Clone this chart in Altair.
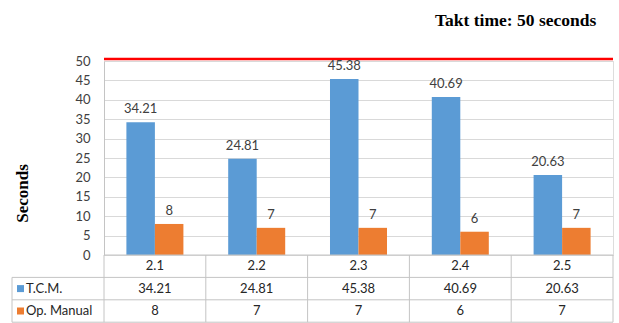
import altair as alt
import pandas as pd

# Cycle times per station (seconds)
categories = ["2.1", "2.2", "2.3", "2.4", "2.5"]
series_names = ["T.C.M.", "Op. Manual"]
tcm_values = [34.21, 24.81, 45.38, 40.69, 20.63]
op_manual_values = [8, 7, 7, 6, 7]
takt_time = 50
y_ticks = [0, 5, 10, 15, 20, 25, 30, 35, 40, 45, 50]

colors = ["#5b9bd5", "#ed7d31"]

# Plot geometry (pixels)
W, H = 509, 194
PX_X = W / len(categories)          # pixels per category
PX_Y = H / 50                       # pixels per second
ROW_H = 22.4 / PX_Y                 # table row height in data units
LEFT = -92 / PX_X                   # left edge of the table's label column
BAR_W = 0.28                        # bar width as share of a category

FONT = "Lato"
SERIF = "Liberation Serif"
TXT = "#404040"
LINE = "#c4c4c4"

x_scale = alt.Scale(domain=[0, len(categories)], nice=False, zero=False)
y_scale = alt.Scale(domain=[0, 50], nice=False, zero=False)

# One shared y axis definition, used by every layer so the merge keeps it
y_axis = alt.Axis(values=y_ticks, title="Seconds", grid=True, gridColor="#d9d9d9",
                  domain=True, domainColor=LINE, ticks=False, labelPadding=14,
                  labelFont=FONT, labelFontSize=13, labelColor=TXT,
                  titleFont=SERIF, titleFontSize=17, titleFontWeight="bold",
                  titleColor="black", titleX=-82, titleY=132,
                  titleBaseline="middle", titleAlign="center", titleAngle=270)


def X(field):
    return alt.X(field, scale=x_scale, axis=None)


def Y(field):
    return alt.Y(field, scale=y_scale, axis=y_axis)


# Bars
rows = []
for i, c in enumerate(categories):
    for s, vals, off in ((series_names[0], tcm_values, -BAR_W), (series_names[1], op_manual_values, 0.0)):
        v = vals[i]
        rows.append({"cat": c, "series": s, "value": v, "label": f"{v:g}",
                     "x0": i + 0.5 + off, "x1": i + 0.5 + off + BAR_W,
                     "xc": i + 0.5 + off + BAR_W / 2, "zero": 0})
bars_df = pd.DataFrame(rows)

color = alt.Color("series:N", scale=alt.Scale(domain=series_names, range=colors), legend=None)

bars = alt.Chart(bars_df).mark_bar().encode(
    x=X("x0:Q"), x2="x1:Q",
    y=Y("value:Q"), y2="zero:Q",
    color=color,
)

bar_labels = alt.Chart(bars_df).mark_text(
    font=FONT, fontSize=13, color=TXT, baseline="alphabetic", dy=-9
).encode(
    x=X("xc:Q"), y=Y("value:Q"), text="label:N",
)

# Takt time line
takt_df = pd.DataFrame({"y": [takt_time], "x0": [0], "x1": [len(categories)]})
takt = alt.Chart(takt_df).mark_rule(color="#ff0000", strokeWidth=2.5, yOffset=-2).encode(
    x=X("x0:Q"), x2="x1:Q", y=Y("y:Q"),
)

# Data table grid
n = len(categories)
segs = [
    {"x0": 0, "x1": n, "y0": 0, "y1": 0},
    {"x0": LEFT, "x1": n, "y0": -ROW_H, "y1": -ROW_H},
    {"x0": LEFT, "x1": n, "y0": -2 * ROW_H, "y1": -2 * ROW_H},
    {"x0": LEFT, "x1": n, "y0": -3 * ROW_H, "y1": -3 * ROW_H},
    {"x0": LEFT, "x1": LEFT, "y0": -ROW_H, "y1": -3 * ROW_H},
]
for k in range(n + 1):
    segs.append({"x0": k, "x1": k, "y0": 0, "y1": -3 * ROW_H})
segs_df = pd.DataFrame(segs)

grid = alt.Chart(segs_df).mark_rule(color=LINE, strokeWidth=1).encode(
    x=X("x0:Q"), x2="x1:Q", y=Y("y0:Q"), y2="y1:Q",
)

# Data table contents
cells = []
for i, c in enumerate(categories):
    cells.append({"x": i + 0.5, "y": -0.5 * ROW_H, "t": c})
    cells.append({"x": i + 0.5, "y": -1.5 * ROW_H, "t": f"{tcm_values[i]:g}"})
    cells.append({"x": i + 0.5, "y": -2.5 * ROW_H, "t": f"{op_manual_values[i]:g}"})
cells_df = pd.DataFrame(cells)

cell_text = alt.Chart(cells_df).mark_text(
    font=FONT, fontSize=13, color="#262626", baseline="middle", align="center"
).encode(
    x=X("x:Q"), y=Y("y:Q"), text="t:N",
)

legend_df = pd.DataFrame({
    "series": series_names,
    "y": [-1.5 * ROW_H, -2.5 * ROW_H],
    "xk": [LEFT + 8.5 / PX_X] * 2,
    "xt": [LEFT + 14 / PX_X] * 2,
})

legend_keys = alt.Chart(legend_df).mark_square(size=49, opacity=1).encode(
    x=X("xk:Q"), y=Y("y:Q"), color=color,
)

legend_text = alt.Chart(legend_df).mark_text(
    font=FONT, fontSize=13, color="#262626", baseline="middle", align="left"
).encode(
    x=X("xt:Q"), y=Y("y:Q"), text="series:N",
)

chart = alt.layer(
    bars, takt, grid, bar_labels, cell_text, legend_keys, legend_text
).properties(
    width=W,
    height=H,
    title=alt.TitleParams("Takt time: 50 seconds", anchor="end", font=SERIF, fontSize=17.5,
                          fontWeight="bold", color="black", dx=-18, dy=3, offset=29),
    autosize=alt.AutoSizeParams(type="none"),
    padding={"left": 104, "top": 61, "right": 6, "bottom": 68},
).configure_view(stroke=None).configure(background="white")

chart.save("out.html", embed_options={"renderer": "svg", "actions": False})
